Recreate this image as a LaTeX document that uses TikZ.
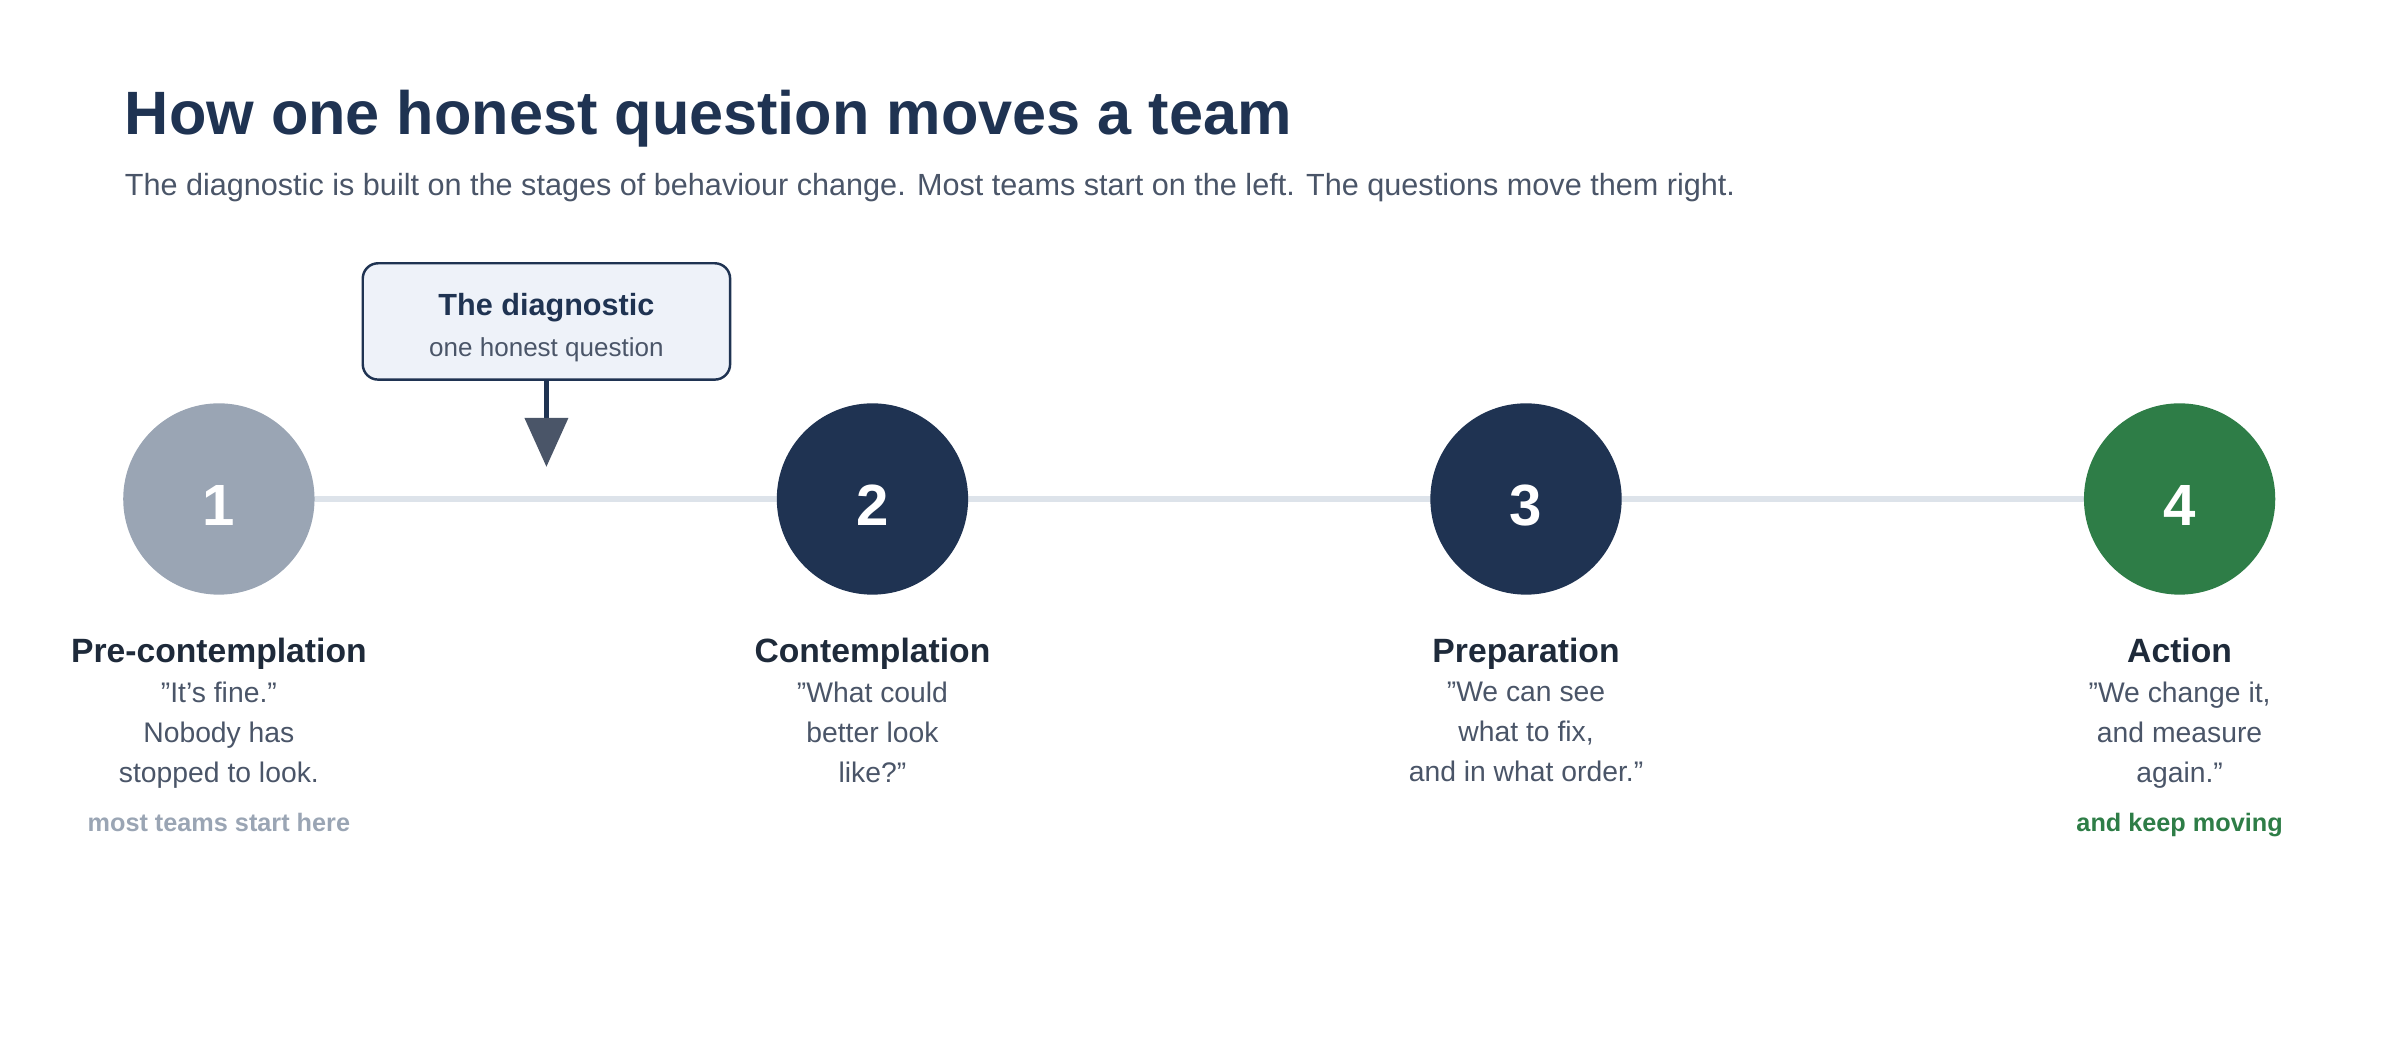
\documentclass[tikz,border=0pt]{standalone}
\usepackage{fontspec}
\setmainfont{Liberation Sans}
\usetikzlibrary{arrows.meta}
\definecolor{navy}{HTML}{1F3352}
\definecolor{grayc}{HTML}{9AA5B4}
\definecolor{greenc}{HTML}{2E7D47}
\definecolor{txt}{HTML}{4A5568}
\definecolor{linec}{HTML}{DDE3EA}
\definecolor{boxc}{HTML}{EEF2F9}
\definecolor{dark}{HTML}{1E2A3A}
\begin{document}
\begin{tikzpicture}[x=1pt,y=-1pt,
  stage/.style={circle,minimum size=125pt,inner sep=0pt},
  sname/.style={anchor=base,font=\fontsize{22}{26}\selectfont\bfseries,text=dark},
  quote/.style={anchor=north,align=center,font=\fontsize{18.5}{26}\selectfont,text=txt},
  note/.style={anchor=base,font=\fontsize{16.5}{20}\selectfont\bfseries}]
\useasboundingbox (0,0) rectangle (1568,680);
\node[anchor=base west,font=\fontsize{40}{44}\selectfont\bfseries,text=navy] (title) at (78,88) {How one honest question moves a team};
\node[anchor=base west,font=\fontsize{20}{24}\selectfont,text=txt] (sub) at (78,128) {The diagnostic is built on the stages of behaviour change. Most teams start on the left. The questions move them right.};
\draw[linec,line width=4pt] (143,326) -- (1424,326);
\node[stage,fill=grayc] (s1) at (143,326) {};
\node[stage,fill=navy] (s2) at (570,326) {};
\node[stage,fill=navy] (s3) at (997,326) {};
\node[stage,fill=greenc] (s4) at (1424,326) {};
\foreach \s/\n in {s1/1,s2/2,s3/3,s4/4}
  \node[font=\fontsize{38}{40}\selectfont\bfseries,text=white] at ([yshift=-4pt]\s) {\n};
\node[draw=navy,line width=1.6pt,fill=boxc,rounded corners=10pt,minimum width=240pt,minimum height=76pt] (box) at (357,210) {};
\node[anchor=base,font=\fontsize{20}{24}\selectfont\bfseries,text=navy] at (357,206) {The diagnostic};
\node[anchor=base,font=\fontsize{17}{20}\selectfont,text=txt] at (357,233) {one honest question};
\coordinate (tip) at (357,305);
\draw[navy,line width=3pt,-{Triangle[width=28pt,length=32pt,color=txt]}] (box.south) -- (tip);
\node[sname] (n1) at (143,433) {Pre-contemplation};
\node[sname] (n2) at (570,433) {Contemplation};
\node[sname] (n3) at (997,433) {Preparation};
\node[sname] (n4) at (1424,433) {Action};
\node[quote] (q1) at (143,442) {"It's fine."\\Nobody has\\stopped to look.};
\node[quote] (q2) at (570,442) {"What could\\better look\\like?"};
\node[quote] (q3) at (997,442) {"We can see\\what to fix,\\and in what order."};
\node[quote] (q4) at (1424,442) {"We change it,\\and measure\\again."};
\node[note,text=grayc] (m1) at (143,543) {most teams start here};
\node[note,text=greenc] (m4) at (1424,543) {and keep moving};
\end{tikzpicture}
\end{document}
